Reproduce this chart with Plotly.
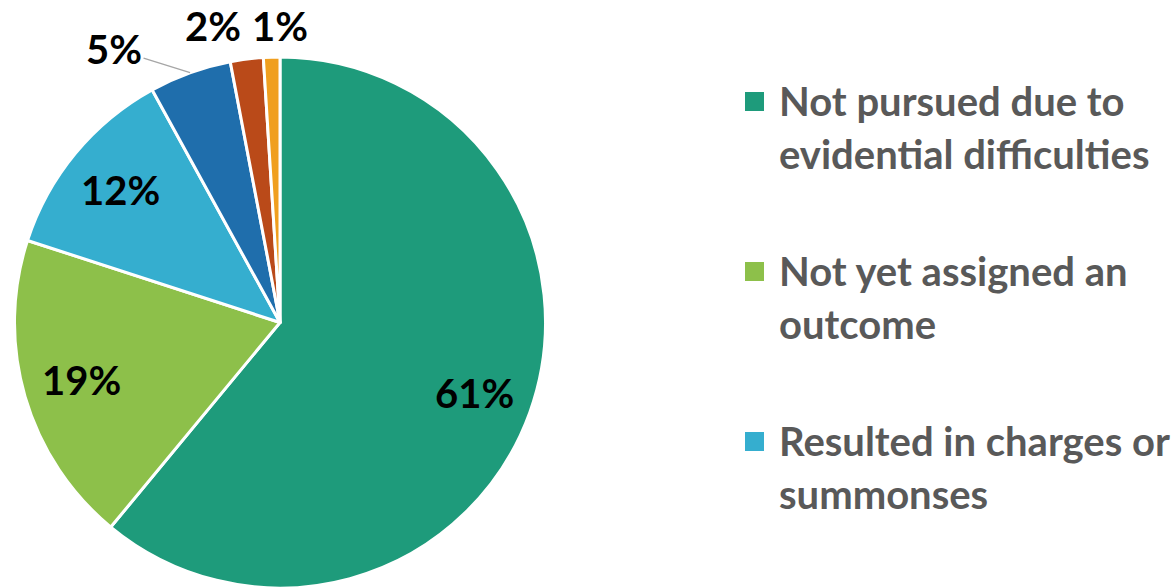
import math
import plotly.graph_objects as go

labels = ["Not pursued due to evidential difficulties",
          "Not yet assigned an outcome",
          "Resulted in charges or summonses",
          "Other outcome A", "Other outcome B", "Other outcome C"]
legend_lines = [["Not pursued due to", "evidential difficulties"],
                ["Not yet assigned an", "outcome"],
                ["Resulted in charges or", "summonses"]]
values = [61, 19, 12, 5, 2, 1]
colors = ["#1E9B7B", "#8DC04A", "#35AECF", "#1F6EAC", "#BA4A19", "#F09F1F"]

W, H = 1176, 588
FONT = "Lato"
dom_x = [14, 546]      # pie domain in px
dom_y = [57, 588]

fig = go.Figure()
fig.add_trace(go.Pie(
    labels=labels, values=values, sort=False, direction="clockwise", rotation=0,
    marker=dict(colors=colors, line=dict(color="white", width=3)),
    textinfo="none",
    domain=dict(x=[dom_x[0] / W, dom_x[1] / W], y=[1 - dom_y[1] / H, 1 - dom_y[0] / H]),
    automargin=False, showlegend=False, hoverinfo="label+percent",
))

# label placement derived from the data (mid-angle of each slice)
cx = (dom_x[0] + dom_x[1]) / 2
cy = (dom_y[0] + dom_y[1]) / 2
R = min(dom_x[1] - dom_x[0], dom_y[1] - dom_y[0]) / 2
total = sum(values)
inside_r = 0.78
# outside label offsets (px) from the slice's arc midpoint, and whether a leader line is drawn
outside_style = {3: (-76, -24, True), 4: (-34, -33, False), 5: (8, -31, False)}

annos = []
cum = 0
for i, v in enumerate(values):
    mid = (cum + v / 2) / total * 2 * math.pi
    cum += v
    txt = f"{round(100 * v / total)}%"
    font = dict(family=FONT, size=40, color="black", weight="bold")
    if i in outside_style:
        ax, ay, line = outside_style[i]
        px = cx + R * math.sin(mid)
        py = cy - R * math.cos(mid)
        annos.append(dict(text=txt, x=px / W, y=1 - py / H, xref="paper", yref="paper",
                          showarrow=True, ax=ax, ay=ay, arrowhead=0, arrowwidth=1.3,
                          arrowcolor="#A6A6A6" if line else "rgba(0,0,0,0)",
                          standoff=0, font=font))
    else:
        px = cx + inside_r * R * math.sin(mid)
        py = cy - inside_r * R * math.cos(mid)
        annos.append(dict(text=txt, x=px / W, y=1 - py / H, xref="paper", yref="paper",
                          xanchor="center", yanchor="middle",
                          showarrow=False, font=font))

shapes = []
for i, lines in enumerate(legend_lines):
    base = 99 + i * 170
    shapes.append(dict(type="rect", xref="paper", yref="paper",
                       x0=745 / W, x1=764 / W, y0=1 - (base + 12) / H, y1=1 - (base - 7) / H,
                       fillcolor=colors[i], line=dict(width=0)))
    for j, ln in enumerate(lines):
        annos.append(dict(text=ln, xref="paper", yref="paper", x=777 / W,
                          y=1 - (base + j * 53 + 2) / H,
                          xanchor="left", yanchor="middle", align="left", showarrow=False,
                          font=dict(family=FONT, size=40, color="#595959", weight="bold")))

fig.update_layout(width=W, height=H, margin=dict(l=0, r=0, t=0, b=0),
                  paper_bgcolor="white", plot_bgcolor="white",
                  shapes=shapes, annotations=annos)
fig.write_html("out.html")
